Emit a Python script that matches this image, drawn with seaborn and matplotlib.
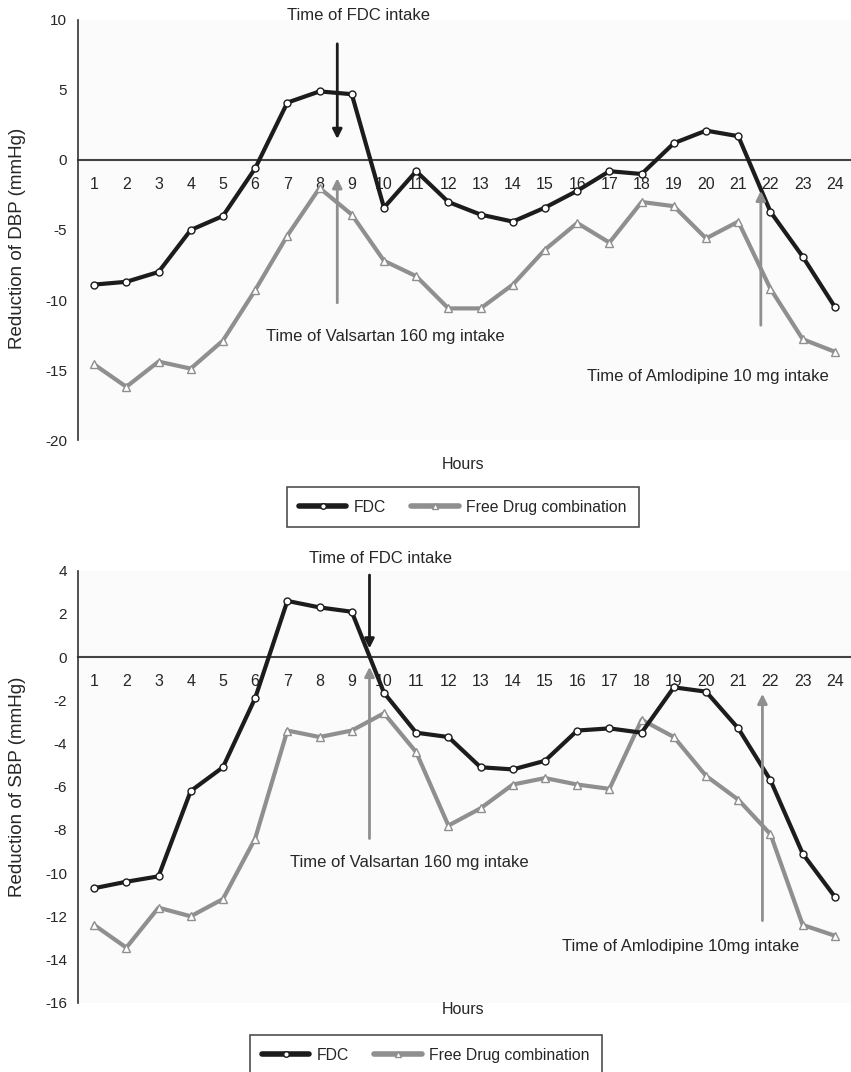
import numpy as np
import pandas as pd
import matplotlib
matplotlib.use("Agg")
import matplotlib.pyplot as plt
from matplotlib.ticker import FixedLocator
from matplotlib.lines import Line2D
import seaborn as sns

sns.set_style("white")
plt.rcParams['font.family'] = ['Liberation Sans', 'DejaVu Sans']

hours = list(range(1, 25))
hour_labels = [str(h) for h in hours]

dbp_fdc = [-8.9, -8.7, -8.0, -5.0, -4.0, -0.6, 4.1, 4.9, 4.7, -3.4, -0.8, -3.0,
           -3.9, -4.4, -3.4, -2.2, -0.8, -1.0, 1.2, 2.1, 1.7, -3.7, -6.9, -10.5]
dbp_free = [-14.6, -16.2, -14.4, -14.9, -12.9, -9.3, -5.4, -2.0, -3.9, -7.2, -8.3, -10.6,
            -10.6, -8.9, -6.4, -4.5, -5.9, -3.0, -3.3, -5.6, -4.4, -9.2, -12.8, -13.7]

sbp_fdc = [-10.7, -10.4, -10.15, -6.2, -5.1, -1.9, 2.6, 2.3, 2.1, -1.65, -3.5, -3.7,
           -5.1, -5.2, -4.8, -3.4, -3.3, -3.5, -1.4, -1.6, -3.3, -5.7, -9.1, -11.1]
sbp_free = [-12.4, -13.45, -11.6, -12.0, -11.2, -8.4, -3.4, -3.7, -3.4, -2.6, -4.4, -7.8,
            -7.0, -5.9, -5.6, -5.9, -6.1, -2.9, -3.7, -5.5, -6.6, -8.2, -12.4, -12.9]

series_names = ["FDC", "Free Drug combination"]

BLACK = "#1c1c1c"
GRAY = "#8f8f8f"

fig = plt.figure(figsize=(8.51, 10.72), dpi=100)
ax1 = fig.add_axes([78/851, 1-440/1072, 773/851, 420/1072])
ax2 = fig.add_axes([78/851, 1-1002.7/1072, 773/851, 432/1072])


def draw(ax, fdc, free, ylim, yticks, ylabel):
    df = pd.DataFrame({"Hour": hours * 2,
                       "Value": fdc + free,
                       "Series": [series_names[0]] * 24 + [series_names[1]] * 24})
    sub = df[df.Series == series_names[1]]
    sns.lineplot(data=sub, x="Hour", y="Value", ax=ax, color=GRAY, lw=3.0,
                 marker="^", markersize=6, markerfacecolor="white",
                 markeredgecolor=GRAY, markeredgewidth=1.0, zorder=3)
    sub = df[df.Series == series_names[0]]
    sns.lineplot(data=sub, x="Hour", y="Value", ax=ax, color=BLACK, lw=3.0,
                 marker="o", markersize=5, markerfacecolor="white",
                 markeredgecolor=BLACK, markeredgewidth=1.0, zorder=4)
    ax.set_xlim(0.5, 24.5)
    ax.set_ylim(*ylim)
    ax.set_facecolor("#fbfbfb")
    for s in ["top", "right"]:
        ax.spines[s].set_visible(False)
    ax.spines["left"].set_color("#333333")
    ax.spines["left"].set_linewidth(1.2)
    ax.spines["bottom"].set_position(("data", 0))
    ax.spines["bottom"].set_color("#444444")
    ax.spines["bottom"].set_linewidth(1.5)
    ax.spines["bottom"].set_zorder(2)
    ax.set_yticks(yticks)
    ax.set_yticklabels([str(t) for t in yticks], fontsize=11)
    ax.tick_params(axis="y", direction="out", length=4, width=1.2, color="#333333", pad=4)
    ax.set_xticks(hours)
    ax.set_xticklabels(hour_labels, fontsize=11.5)
    ax.xaxis.set_minor_locator(FixedLocator([h + 0.5 for h in hours]))
    ax.tick_params(axis="x", which="major", length=0, pad=12)
    ax.tick_params(axis="x", which="minor", direction="out", length=5, width=1.2,
                   color="#444444")
    ax.set_xlabel("")
    ax.set_ylabel(ylabel, fontsize=13.5)
    ax.grid(False)


draw(ax1, dbp_fdc, dbp_free, (-20, 10), [10, 5, 0, -5, -10, -15, -20],
     "Reduction of DBP (mmHg)")
draw(ax2, sbp_fdc, sbp_free, (-16, 4), [4, 2, 0, -2, -4, -6, -8, -10, -12, -14, -16],
     "Reduction of SBP (mmHg)")

ax1.yaxis.set_label_coords(-0.067, 0.48)
ax2.yaxis.set_label_coords(-0.067, 0.5)

arrow_k = dict(arrowstyle="-|>", lw=2.0, mutation_scale=14, shrinkA=0, shrinkB=0)
fs = 12

# top annotations
ax1.annotate("", xy=(8.55, 1.5), xytext=(8.55, 8.3),
             arrowprops=dict(color=BLACK, **arrow_k), zorder=5)
ax1.annotate("", xy=(8.55, -1.3), xytext=(8.55, -10.2),
             arrowprops=dict(color=GRAY, **arrow_k), zorder=5)
ax1.annotate("", xy=(21.7, -2.2), xytext=(21.7, -11.8),
             arrowprops=dict(color=GRAY, **arrow_k), zorder=5)
ax1.text(9.2, 10.3, "Time of FDC intake", ha="center", va="center", fontsize=fs)
ax1.text(10.05, -12.6, "Time of Valsartan 160 mg intake", ha="center", va="center", fontsize=fs)
ax1.text(20.05, -15.5, "Time of Amlodipine 10 mg intake", ha="center", va="center", fontsize=fs)

# bottom annotations
ax2.annotate("", xy=(9.55, 0.4), xytext=(9.55, 3.8),
             arrowprops=dict(color=BLACK, **arrow_k), zorder=5)
ax2.annotate("", xy=(9.55, -0.45), xytext=(9.55, -8.4),
             arrowprops=dict(color=GRAY, **arrow_k), zorder=5)
ax2.annotate("", xy=(21.75, -1.7), xytext=(21.75, -12.2),
             arrowprops=dict(color=GRAY, **arrow_k), zorder=5)
ax2.text(9.9, 4.55, "Time of FDC intake", ha="center", va="center", fontsize=fs,
         clip_on=False)
ax2.text(10.8, -9.5, "Time of Valsartan 160 mg intake", ha="center", va="center", fontsize=fs)
ax2.text(19.2, -13.4, "Time of Amlodipine 10mg intake", ha="center", va="center", fontsize=fs)

# x-axis titles
fig.text(463/851, 1-465/1072, "Hours", ha="center", va="center", fontsize=11.5)
fig.text(463/851, 1-1010/1072, "Hours", ha="center", va="center", fontsize=11.5)

# legends
handles = [Line2D([], [], color=BLACK, lw=4, marker="o", markersize=4,
                  markerfacecolor="white", markeredgecolor=BLACK),
           Line2D([], [], color=GRAY, lw=4, marker="^", markersize=5,
                  markerfacecolor="white", markeredgecolor=GRAY)]
leg_kw = dict(ncol=2, frameon=True, fancybox=False, edgecolor="#222222",
              fontsize=11.3, handlelength=3.0, columnspacing=1.6,
              borderpad=0.8, handletextpad=0.5, borderaxespad=0)
l1 = fig.legend(handles, series_names, loc="upper center",
                bbox_to_anchor=(463/851, 1-487/1072), **leg_kw)
l1.get_frame().set_linewidth(1.2)
l2 = fig.legend(handles, series_names, loc="upper center",
                bbox_to_anchor=(426/851, 1-1035/1072), **leg_kw)
l2.get_frame().set_linewidth(1.2)

fig.savefig("out.png", dpi=100, facecolor="white")
